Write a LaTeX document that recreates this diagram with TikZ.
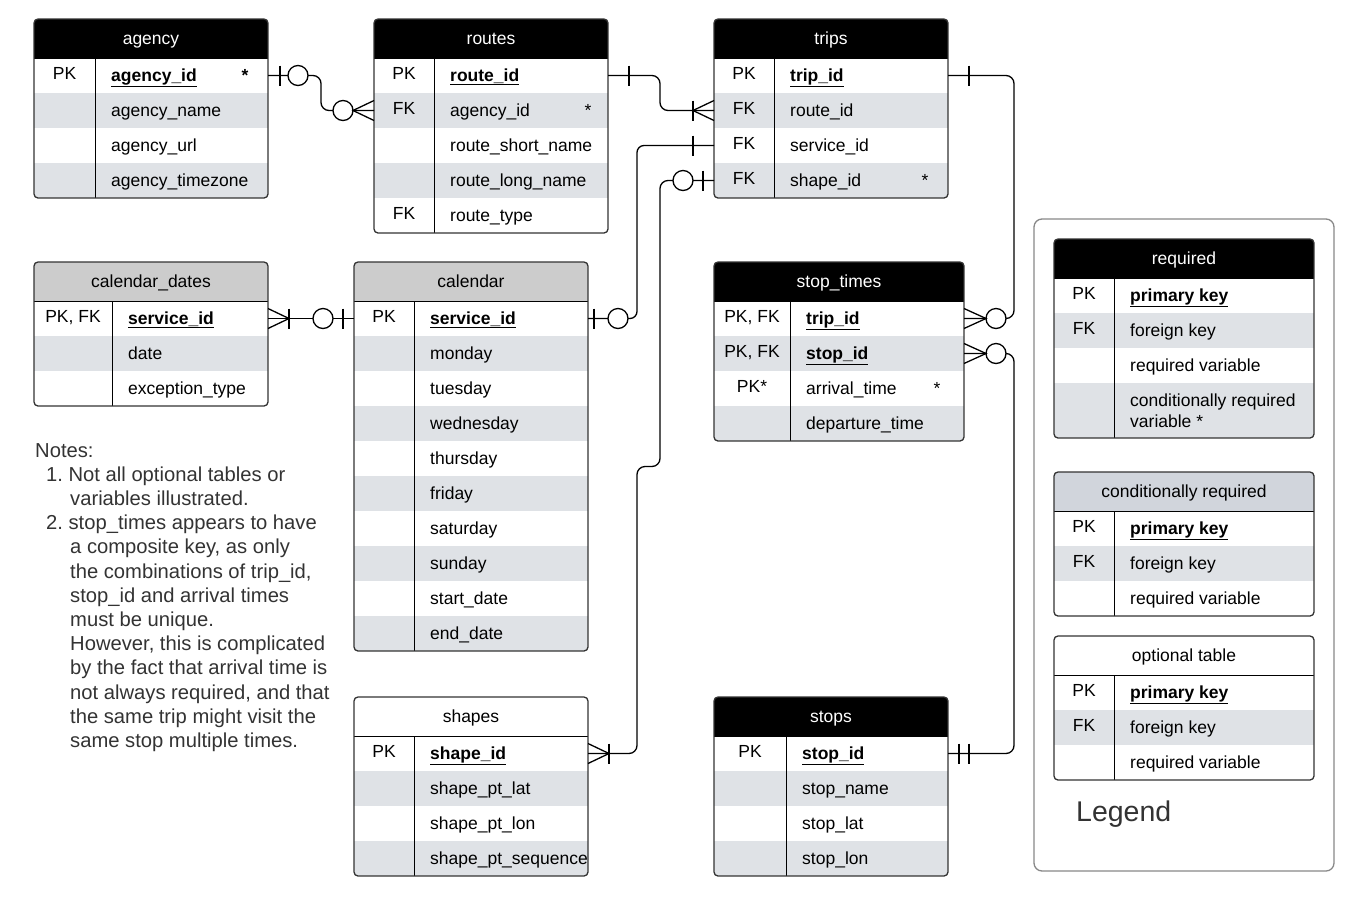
\documentclass[tikz,border=0pt]{standalone}
\usepackage{fontspec}
\setmainfont{Liberation Sans}
\usetikzlibrary{calc}
\definecolor{rowgray}{HTML}{DFE2E6}
\definecolor{headgrayc}{HTML}{CCCCCC}
\definecolor{condc}{HTML}{D1D5DC}
\definecolor{bordc}{HTML}{333333}
\definecolor{legc}{HTML}{888888}
\definecolor{notec}{HTML}{333333}
\newcommand\kf[1]{\underline{\textbf{#1}}}
\tikzset{
 tabletext/.style={font=\fontsize{17.5}{21}\selectfont, inner sep=0pt},
 keytext/.style={tabletext, anchor=base},
 fieldtext/.style={tabletext, anchor=base west},
 headbox/.style={tabletext, minimum height=39pt, text height=14pt, text depth=1.2pt},
 headblack/.style={fill=black, text=white},
 headgray/.style={fill=headgrayc},
 headcond/.style={fill=condc},
 headwhite/.style={fill=white},
 rowbox/.style={anchor=north west, inner sep=0pt, outer sep=0pt, draw=none},
 conn/.style={line width=1.3pt, black},
 tableborder/.style={line width=1.3pt, draw=bordc},
 divline/.style={line width=1pt, black},
}
% #1 id, #2 x, #3 y, #4 width, #5 key width, #6 head style, #7 title, #8 rows, #9 extra height of last row
\newcommand\ertable[9]{%
 \foreach \erk/\erf [count=\ern] in {#8} {\xdef\ernrows{\ern}}%
 \pgfmathsetmacro\erbot{#3+39+35*\ernrows+#9}%
 \begin{scope}
  \clip[rounded corners=4pt] (#2,#3) rectangle ({#2+#4},\erbot);
  \fill[white] (#2,#3) rectangle ({#2+#4},\erbot);
  \node[headbox,#6,minimum width=#4] (#1-h) at ({#2+#4/2},{#3+19.5}) {#7};
  \foreach \erk/\erf [count=\eri] in {#8} {
   \pgfmathsetmacro\ry{#3+39+35*(\eri-1)}
   \pgfmathsetmacro\rh{35+(\eri==\ernrows)*#9}
   \ifodd\eri\relax\def\rf{white}\else\def\rf{rowgray}\fi
   \node[rowbox, fill=\rf, minimum width=#4, minimum height=\rh] (#1-\eri) at (#2,\ry) {};
  }
 \end{scope}
 \foreach \erk/\erf [count=\eri] in {#8} {
  \pgfmathsetmacro\ry{#3+39+35*(\eri-1)}
  \node[keytext] (#1-\eri-k) at ({#2+#5/2},{\ry+21}) {\erk};
  \node[fieldtext] (#1-\eri-f) at ({#2+#5+16},{\ry+23}) {\erf};
 }
 \draw[divline] (#2,{#3+39}) -- ({#2+#4},{#3+39});
 \draw[divline] ({#2+#5},{#3+39}) -- ({#2+#5},\erbot);
 \draw[tableborder, rounded corners=4pt] (#2,#3) rectangle ({#2+#4},\erbot);
}
\newcommand\mbar[2]{\draw[conn] ($(#1)+(#2,-10)$) -- ++(0,20);}
\newcommand\mcirc[2]{\draw[conn, fill=white] ($(#1)+(#2,0)$) circle[radius=10pt];}
\newcommand\mcrow[2]{\draw[conn] ($(#1)+(0,-10)$) -- ($(#1)+(#2,0)$) -- ($(#1)+(0,10)$);}
\begin{document}
\begin{tikzpicture}[x=1pt,y=-1pt]
\useasboundingbox (0,0) rectangle (1361,914);
\fill[white] (0,0) rectangle (1361,914);

% tables
\ertable{agency}{34}{19}{234}{61}{headblack}{agency}{PK/\kf{agency\_id}, {}/agency\_name, {}/agency\_url, {}/agency\_timezone}{0}
\ertable{routes}{374}{19}{234}{60}{headblack}{routes}{PK/\kf{route\_id}, FK/agency\_id, {}/route\_short\_name, {}/route\_long\_name, FK/route\_type}{0}
\ertable{trips}{714}{19}{234}{60}{headblack}{trips}{PK/\kf{trip\_id}, FK/route\_id, FK/service\_id, FK/shape\_id}{0}
\ertable{caldates}{34}{262}{234}{78}{headgray}{calendar\_dates}{{PK, FK}/\kf{service\_id}, {}/date, {}/exception\_type}{0}
\ertable{calendar}{354}{262}{234}{60}{headgray}{calendar}{PK/\kf{service\_id}, {}/monday, {}/tuesday, {}/wednesday, {}/thursday, {}/friday, {}/saturday, {}/sunday, {}/start\_date, {}/end\_date}{0}
\ertable{stoptimes}{714}{262}{250}{76}{headblack}{stop\_times}{{PK, FK}/\kf{trip\_id}, {PK, FK}/\kf{stop\_id}, PK*/arrival\_time, {}/departure\_time}{0}
\ertable{shapes}{354}{697}{234}{60}{headwhite}{shapes}{PK/\kf{shape\_id}, {}/shape\_pt\_lat, {}/shape\_pt\_lon, {}/shape\_pt\_sequence}{0}
\ertable{stops}{714}{697}{234}{72}{headblack}{stops}{PK/\kf{stop\_id}, {}/stop\_name, {}/stop\_lat, {}/stop\_lon}{0}

% asterisks
\node[tabletext, anchor=base] (agency-star) at (245,81) {\textbf{*}};
\node[tabletext, anchor=base] (routes-star) at (588,116) {*};
\node[tabletext, anchor=base] (trips-star) at (925,186) {*};
\node[tabletext, anchor=base] (stoptimes-star) at (937,394) {*};

% connectors
\draw[conn, rounded corners=8pt] (agency-1.east) -- ++(53,0) |- (routes-2.west);
\draw[conn, rounded corners=8pt] (routes-1.east) -- ++(52,0) |- (trips-2.west);
\draw[conn, rounded corners=7pt] (calendar-1.east) -- ++(49,0) |- (trips-3.west);
\draw[conn] (caldates-1.east) -- (calendar-1.west);
\draw[conn, rounded corners=8pt] (trips-4.west) -| ($(trips-4.west)+(-54,286)$) -| ($(shapes-1.east)+(49,0)$) -- (shapes-1.east);
\draw[conn, rounded corners=8pt] (trips-1.east) -| ($(stoptimes-1.east)+(50,0)$) -- (stoptimes-1.east);
\draw[conn, rounded corners=8pt] (stops-1.east) -| ($(stoptimes-2.east)+(50,0)$) -- (stoptimes-2.east);

% markers
\mbar{agency-1.east}{12} \mcirc{agency-1.east}{30}
\mcirc{routes-2.west}{-31} \mcrow{routes-2.west}{-21}
\mbar{routes-1.east}{21} \mbar{trips-2.west}{-21} \mcrow{trips-2.west}{-21}
\mbar{calendar-1.east}{6} \mcirc{calendar-1.east}{30} \mbar{trips-3.west}{-21}
\mcrow{caldates-1.east}{21} \mbar{caldates-1.east}{21} \mcirc{calendar-1.west}{-31} \mbar{calendar-1.west}{-11}
\mbar{trips-4.west}{-11} \mcirc{trips-4.west}{-31} \mcrow{shapes-1.east}{21} \mbar{shapes-1.east}{21}
\mbar{trips-1.east}{21} \mcirc{stoptimes-1.east}{32} \mcrow{stoptimes-1.east}{22}
\mbar{stops-1.east}{11} \mbar{stops-1.east}{21} \mcirc{stoptimes-2.east}{32} \mcrow{stoptimes-2.east}{22}

% notes
\node[inner sep=0pt, anchor=base west, text=notec, font=\fontsize{20.2}{24.2}\selectfont] (notes) at (35,457) {\begin{tabular}[t]{@{}l@{}}
Notes:\\
\hspace*{11pt}1.~Not all optional tables or\\
\hspace*{35pt}variables illustrated.\\
\hspace*{11pt}2.~stop\_times appears to have\\
\hspace*{35pt}a composite key, as only\\
\hspace*{35pt}the combinations of trip\_id,\\
\hspace*{35pt}stop\_id and arrival times\\
\hspace*{35pt}must be unique.\\
\hspace*{35pt}However, this is complicated\\
\hspace*{35pt}by the fact that arrival time is\\
\hspace*{35pt}not always required, and that\\
\hspace*{35pt}the same trip might visit the\\
\hspace*{35pt}same stop multiple times.
\end{tabular}};

% legend
\draw[line width=1.3pt, draw=legc, rounded corners=8pt] (1034,219) rectangle (1334,871);
\ertable{lreq}{1054}{239}{260}{60}{headblack}{required}{PK/\kf{primary key}, FK/foreign key, {}/required variable, {}/{\begin{tabular}[t]{@{}l@{}}conditionally required\\variable *\end{tabular}}}{20}
\ertable{lcond}{1054}{472}{260}{60}{headcond}{conditionally required}{PK/\kf{primary key}, FK/foreign key, {}/required variable}{0}
\ertable{lopt}{1054}{636}{260}{60}{headwhite}{optional table}{PK/\kf{primary key}, FK/foreign key, {}/required variable}{0}
\node[inner sep=0pt, anchor=base west, text=notec, font=\fontsize{28.5}{34}\selectfont] (legendlabel) at (1076,821) {Legend};
\end{tikzpicture}
\end{document}
